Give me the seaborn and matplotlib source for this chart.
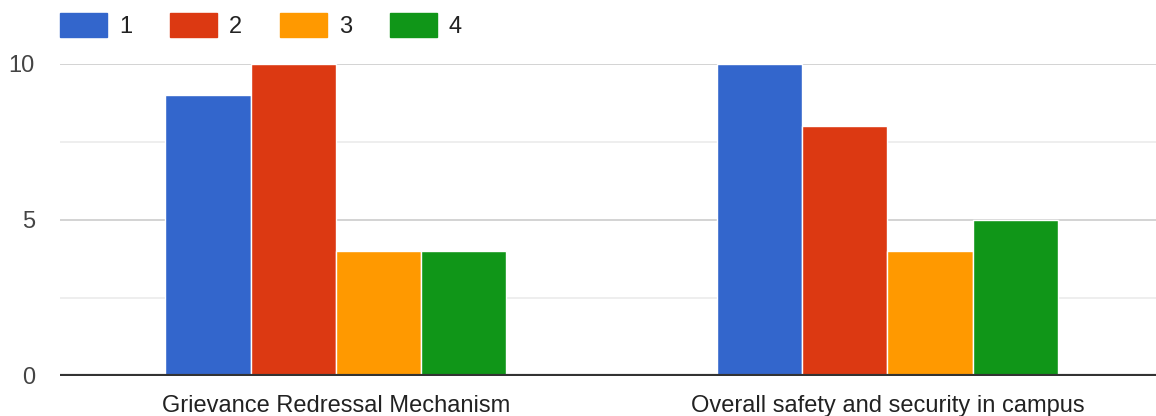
import pandas as pd
import seaborn as sns
import matplotlib.pyplot as plt
from matplotlib.ticker import MultipleLocator

# 数据
categories = ['Grievance Redressal Mechanism', 'Overall safety and security in campus']
ratings = ['1', '2', '3', '4']
grievance_counts = [9, 10, 4, 4]
safety_counts = [10, 8, 4, 5]
palette = ['#3366cc', '#dc3912', '#ff9900', '#109618']

rows = []
for r, g, s in zip(ratings, grievance_counts, safety_counts):
    rows.append({'category': categories[0], 'rating': r, 'count': g})
    rows.append({'category': categories[1], 'rating': r, 'count': s})
df = pd.DataFrame(rows)

sns.set_style('white')
plt.rcParams['font.family'] = ['Liberation Sans', 'DejaVu Sans']

fig = plt.figure(figsize=(11.56, 4.16), dpi=100)
ax = fig.add_axes([0.0519, 0.0962, 0.9481, 0.75])

sns.barplot(data=df, x='category', y='count', hue='rating', order=categories,
            hue_order=ratings, palette=palette, width=0.618, saturation=1,
            edgecolor='white', linewidth=1, ax=ax, zorder=3)

ax.set_xlim(-0.5, 1.487)
ax.set_ylim(0, 10)
ax.yaxis.set_major_locator(MultipleLocator(5))
ax.yaxis.set_minor_locator(MultipleLocator(2.5))
ax.grid(True, axis='y', which='major', color='#cccccc', linewidth=1.2, zorder=0)
ax.grid(True, axis='y', which='minor', color='#ebebeb', linewidth=1.2, zorder=0)
ax.grid(False, axis='x')
ax.axhline(0, color='#333333', linewidth=3, zorder=4)

for side in ['top', 'right', 'left', 'bottom']:
    ax.spines[side].set_visible(False)

ax.set_xlabel('')
ax.set_ylabel('')
ax.tick_params(axis='y', which='both', length=0, pad=18, labelsize=17, labelcolor='#444444')
ax.tick_params(axis='x', length=0, pad=14, labelsize=17, labelcolor='#222222')

leg = ax.legend(loc='upper left', bbox_to_anchor=(0.0, 1.165), ncol=4, frameon=False,
                fontsize=17, handlelength=2.0, handleheight=1.2, handletextpad=0.5,
                columnspacing=1.6, labelcolor='#222222', borderpad=0, borderaxespad=0)
for h in leg.legend_handles:
    h.set_edgecolor(h.get_facecolor())

fig.savefig('out.png', dpi=100)
